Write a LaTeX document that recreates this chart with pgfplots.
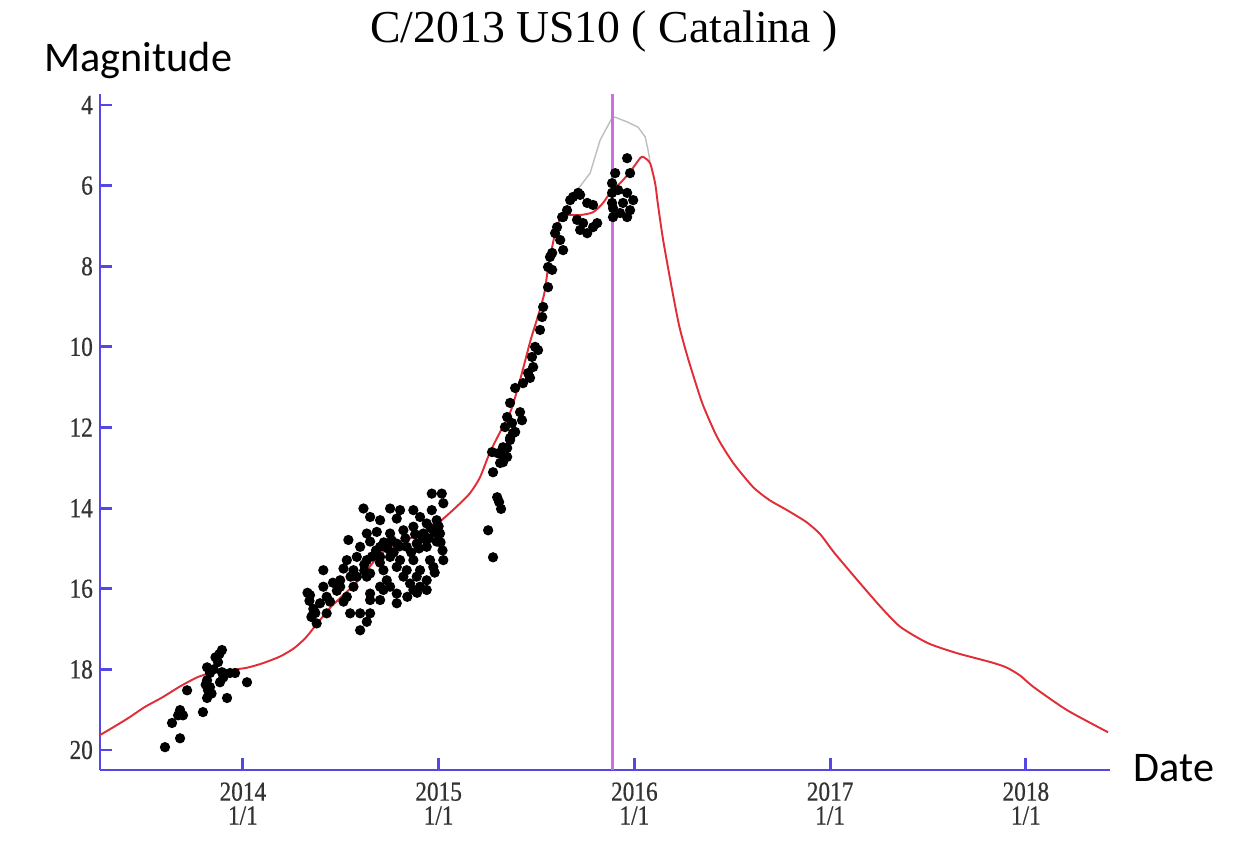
\documentclass[border=0pt]{standalone}
\usepackage{pgfplots}
\pgfplotsset{compat=1.18}
\usepackage{pgfplotstable}
\usepackage{fontspec}
\setmainfont{Liberation Serif}
\newfontfamily\tickfont[FakeStretch=0.85,FakeBold=0.6]{Liberation Serif}
\newfontfamily\calib{Carlito}
\definecolor{axisblue}{RGB}{85,70,230}
\definecolor{nowline}{RGB}{205,110,230}
\definecolor{fitred}{RGB}{225,45,55}
\definecolor{peakgray}{RGB}{190,190,190}

% observed magnitudes (date, mag)
\pgfplotstableread{
date mag
2013.893 17.52
2013.873 17.82
2013.817 17.95
2013.832 18.09
2013.893 18.07
2013.934 18.09
2013.960 18.09
2013.817 18.27
2013.883 18.32
2014.021 18.32
2013.832 18.44
2013.822 18.52
2013.715 18.52
2013.817 18.71
2013.919 18.71
2013.796 19.06
2013.679 19.01
2013.669 19.14
2013.694 19.14
2013.638 19.33
2013.679 19.71
2013.602 19.93
2013.860 17.70
2013.880 17.62
2013.850 18.00
2013.900 18.20
2013.840 18.60
2013.810 18.38
2014.965 13.64
2015.016 13.64
2015.024 13.88
2014.616 14.01
2014.752 14.01
2014.803 14.05
2014.871 14.05
2014.965 14.05
2014.650 14.22
2014.701 14.30
2014.786 14.26
2014.905 14.22
2014.939 14.38
2014.990 14.30
2014.539 14.79
2014.633 14.63
2014.684 14.59
2014.752 14.63
2014.820 14.55
2014.871 14.46
2014.922 14.63
2015.007 14.63
2014.599 14.96
2014.650 14.83
2014.701 14.96
2014.786 14.88
2014.837 14.96
2014.888 14.88
2014.939 14.96
2014.990 14.83
2015.024 15.29
2014.531 15.29
2014.582 15.21
2014.633 15.29
2014.701 15.21
2014.752 15.21
2014.803 15.29
2014.871 15.29
2014.956 15.29
2014.411 15.54
2014.514 15.50
2014.565 15.54
2014.650 15.62
2014.718 15.54
2014.786 15.46
2014.837 15.54
2014.905 15.54
2014.973 15.46
2014.497 15.79
2014.582 15.70
2014.633 15.70
2014.735 15.79
2014.820 15.70
2014.888 15.70
2014.939 15.79
2014.411 15.95
2014.497 15.95
2014.565 15.95
2014.701 15.95
2014.752 15.95
2014.854 15.87
2014.905 15.95
2014.343 16.16
2014.428 16.20
2014.531 16.20
2014.650 16.12
2014.718 16.03
2014.786 16.12
2014.871 16.03
2014.939 16.03
2014.394 16.36
2014.445 16.32
2014.514 16.32
2014.650 16.28
2014.701 16.28
2014.786 16.36
2014.360 16.61
2014.428 16.61
2014.548 16.61
2014.599 16.61
2014.650 16.61
2014.377 16.86
2014.633 16.82
2014.599 17.03
2014.330 16.10
2014.340 16.30
2014.360 16.50
2014.350 16.70
2014.370 16.60
2014.460 15.85
2014.480 16.05
2014.550 15.70
2014.620 15.40
2014.680 15.05
2014.720 14.85
2014.770 15.10
2014.830 14.75
2014.860 15.10
2014.920 14.75
2014.960 14.50
2015.000 14.45
2014.980 15.60
2015.020 15.05
2014.890 16.10
2014.840 16.20
2014.760 14.80
2014.800 14.95
2014.880 14.65
2014.900 15.00
2014.950 14.75
2014.980 14.60
2015.010 14.85
2014.700 15.35
2014.740 15.00
2014.620 15.55
2014.660 15.20
2015.273 12.61
2015.314 12.64
2015.350 12.51
2015.365 12.31
2015.380 12.14
2015.329 12.86
2015.278 13.11
2015.299 13.73
2015.309 13.85
2015.319 14.02
2015.253 14.55
2015.278 15.22
2015.569 7.77
2015.580 8.09
2015.559 8.52
2015.534 9.01
2015.529 9.26
2015.518 9.58
2015.493 10.00
2015.508 10.08
2015.477 10.25
2015.483 10.50
2015.457 10.65
2015.467 10.77
2015.431 10.90
2015.391 11.02
2015.365 11.39
2015.416 11.62
2015.426 11.82
2015.350 11.74
2015.375 11.89
2015.339 11.99
2015.391 12.11
2015.365 12.26
2015.329 12.49
2015.304 12.64
2015.350 12.73
2015.314 12.88
2015.559 8.02
2015.580 7.67
2015.595 7.18
2015.605 7.03
2015.621 7.35
2015.636 7.60
2015.631 6.78
2015.636 6.78
2015.656 6.61
2015.672 6.36
2015.687 6.28
2015.713 6.18
2015.723 6.23
2015.759 6.43
2015.789 6.48
2015.707 6.85
2015.738 6.93
2015.723 7.10
2015.759 7.18
2015.789 7.03
2015.810 6.93
2015.902 5.69
2015.886 5.94
2015.917 6.11
2015.963 6.18
2015.994 6.36
2015.942 6.43
2015.978 6.61
2015.927 6.68
2015.963 6.78
2015.891 6.78
2015.891 6.56
2015.963 5.32
2015.978 5.69
2015.886 6.18
2015.886 6.43
}\obs

% predicted light curve
\pgfplotstableread{
date mag
2013.27 19.63
2013.35 19.40
2013.42 19.19
2013.50 18.93
2013.59 18.69
2013.68 18.42
2013.77 18.19
2013.85 18.07
2013.93 18.02
2014.02 17.96
2014.10 17.85
2014.19 17.68
2014.26 17.48
2014.32 17.22
2014.38 16.86
2014.45 16.45
2014.53 16.08
2014.60 15.74
2014.66 15.38
2014.70 15.15
2014.78 14.88
2014.87 14.72
2014.94 14.55
2014.99 14.40
2015.05 14.15
2015.11 13.88
2015.16 13.63
2015.21 13.25
2015.26 12.64
2015.31 12.15
2015.37 11.57
2015.42 10.75
2015.47 9.83
2015.51 9.20
2015.54 8.67
2015.56 8.02
2015.595 7.18
2015.62 6.85
2015.656 6.73
2015.723 6.73
2015.789 6.66
2015.84 6.43
2015.886 6.11
2015.927 5.94
2015.978 5.66
2016.029 5.32
2016.045 5.29
2016.08 5.44
2016.106 5.94
2016.12 6.45
2016.147 7.35
2016.193 8.59
2016.23 9.50
2016.27 10.22
2016.31 10.85
2016.351 11.45
2016.423 12.24
2016.505 12.88
2016.607 13.48
2016.69 13.80
2016.78 14.05
2016.88 14.35
2016.95 14.65
2017.02 15.10
2017.14 15.79
2017.26 16.46
2017.36 16.95
2017.50 17.35
2017.65 17.60
2017.82 17.82
2017.90 17.95
2017.97 18.15
2018.04 18.44
2018.21 19.01
2018.42 19.56
}\fit

\pgfplotstableread{
date mag
2015.636 6.65
2015.697 6.18
2015.774 5.69
2015.825 4.87
2015.886 4.32
2015.900 4.30
2015.963 4.42
2016.019 4.55
2016.055 4.79
2016.070 5.12
2016.080 5.40
}\peak

\begin{document}
\begin{tikzpicture}
\path[use as bounding box] (0,0) rectangle (12.35cm,8.58cm);
\begin{axis}[
    at={(1.00cm,0.88cm)}, anchor=south west,
    scale only axis,
    width=10.10cm, height=6.76cm,
    xmin=2013.27, xmax=2018.43,
    ymin=3.727, ymax=20.496,
    y dir=reverse,
    axis lines=left,
    axis line style={-, line width=0.85pt, color=axisblue},
    tick align=inside,
    major tick length=3.4pt,
    every tick/.style={axisblue, line width=0.85pt},
    xtick={2014,2015,2016,2017,2018},
    xticklabels={2014\\1/1,2015\\1/1,2016\\1/1,2017\\1/1,2018\\1/1},
    ytick={4,6,...,20},
    xticklabel style={align=center, font=\tickfont\fontsize{7.8}{6.8}\selectfont, text=black!80},
    yticklabel style={font=\tickfont\fontsize{7.8}{8}\selectfont, text=black!80, xshift=1.5pt},
    /pgf/number format/assume math mode=true,
    clip=false,
]
\addplot[only marks, mark=*, mark size=1.25pt, black] table[x=date, y=mag] {\obs};
\addplot[peakgray, line width=0.4pt] table[x=date, y=mag] {\peak};
\addplot[fitred, line width=0.55pt, smooth, tension=0.4] table[x=date, y=mag] {\fit};
\addplot[nowline, line width=0.85pt] coordinates {(2015.89,3.727) (2015.89,20.496)};
\end{axis}
\node[anchor=base, font=\fontsize{13}{15}\selectfont] at (6.04cm,8.15cm) {C/2013 US10 ( Catalina )};
\node[anchor=base west, font=\calib\fontsize{12}{14}\selectfont, inner sep=0pt] at (0.44cm,7.86cm) {Magnitude};
\node[anchor=base west, font=\calib\fontsize{12}{14}\selectfont, inner sep=0pt] at (11.33cm,0.76cm) {Date};
\end{tikzpicture}
\end{document}
